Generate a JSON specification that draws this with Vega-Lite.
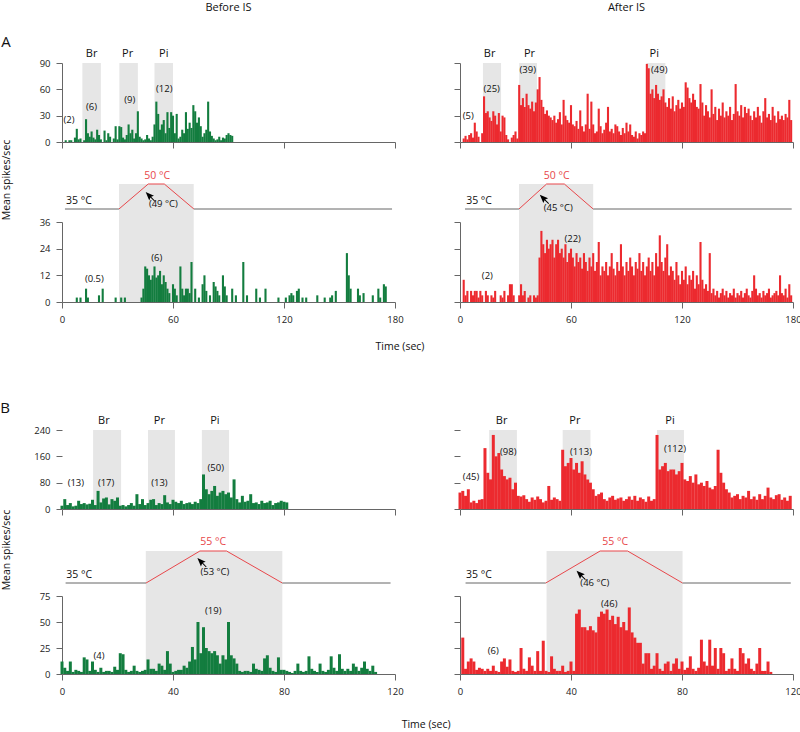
{
"$schema":"https://vega.github.io/schema/vega-lite/v6.json",
"padding":{"left":0,"top":1,"right":0,"bottom":0},
"config":{"view":{"stroke":null},"scale":{"continuousPadding":0},"axis":{"grid":false,"domainColor":"#666","tickColor":"#666","labelColor":"#222","labelFont":"Open Sans","labelFontSize":9.5,"tickSize":6,"labelPadding":6,"labelFlush":false,"tickCount":10},"text":{"font":"Open Sans","color":"#111"}},
"datasets":{
"abt":[{"t":2,"v":2},{"t":4,"v":2},{"t":5,"v":2},{"t":7,"v":5},{"t":8,"v":15},{"t":9,"v":3},{"t":10,"v":4},{"t":12,"v":2},{"t":13,"v":26},{"t":14,"v":10},{"t":15,"v":6},{"t":16,"v":12},{"t":17,"v":5},{"t":18,"v":3},{"t":19,"v":14},{"t":20,"v":8},{"t":21,"v":3},{"t":23,"v":13},{"t":24,"v":2},{"t":25,"v":10},{"t":26,"v":6},{"t":28,"v":4},{"t":29,"v":18},{"t":30,"v":3},{"t":31,"v":18},{"t":32,"v":17},{"t":33,"v":5},{"t":34,"v":3},{"t":35,"v":8},{"t":36,"v":20},{"t":37,"v":10},{"t":38,"v":14},{"t":39,"v":4},{"t":40,"v":10},{"t":41,"v":35},{"t":42,"v":6},{"t":43,"v":4},{"t":44,"v":2},{"t":45,"v":3},{"t":46,"v":8},{"t":47,"v":4},{"t":48,"v":2},{"t":49,"v":6},{"t":50,"v":20},{"t":51,"v":46},{"t":52,"v":32},{"t":53,"v":14},{"t":54,"v":20},{"t":55,"v":25},{"t":56,"v":10},{"t":57,"v":34},{"t":58,"v":16},{"t":59,"v":34},{"t":60,"v":30},{"t":61,"v":10},{"t":62,"v":32},{"t":63,"v":4},{"t":64,"v":6},{"t":65,"v":14},{"t":66,"v":10},{"t":67,"v":34},{"t":68,"v":15},{"t":69,"v":22},{"t":70,"v":16},{"t":71,"v":42},{"t":72,"v":35},{"t":73,"v":22},{"t":74,"v":28},{"t":75,"v":18},{"t":76,"v":6},{"t":77,"v":10},{"t":78,"v":14},{"t":79,"v":46},{"t":80,"v":12},{"t":81,"v":7},{"t":82,"v":4},{"t":83,"v":2},{"t":84,"v":3},{"t":85,"v":6},{"t":86,"v":2},{"t":87,"v":5},{"t":88,"v":4},{"t":89,"v":8},{"t":90,"v":10},{"t":91,"v":8},{"t":92,"v":7}],
"aat":[{"t":2,"v":4},{"t":3,"v":7},{"t":4,"v":3},{"t":5,"v":8},{"t":6,"v":10},{"t":7,"v":5},{"t":8,"v":22},{"t":9,"v":12},{"t":10,"v":6},{"t":12,"v":10},{"t":13,"v":52},{"t":14,"v":33},{"t":15,"v":35},{"t":16,"v":28},{"t":17,"v":24},{"t":18,"v":35},{"t":19,"v":30},{"t":20,"v":20},{"t":21,"v":33},{"t":22,"v":12},{"t":23,"v":30},{"t":24,"v":28},{"t":25,"v":8},{"t":26,"v":3},{"t":28,"v":5},{"t":29,"v":8},{"t":30,"v":12},{"t":31,"v":4},{"t":32,"v":65},{"t":33,"v":42},{"t":34,"v":50},{"t":35,"v":40},{"t":36,"v":55},{"t":37,"v":42},{"t":38,"v":38},{"t":39,"v":46},{"t":40,"v":35},{"t":41,"v":45},{"t":42,"v":60},{"t":43,"v":74},{"t":44,"v":48},{"t":45,"v":40},{"t":46,"v":32},{"t":47,"v":36},{"t":48,"v":30},{"t":49,"v":28},{"t":50,"v":25},{"t":51,"v":30},{"t":52,"v":22},{"t":53,"v":26},{"t":54,"v":34},{"t":55,"v":20},{"t":56,"v":48},{"t":57,"v":30},{"t":58,"v":25},{"t":59,"v":22},{"t":60,"v":42},{"t":61,"v":20},{"t":62,"v":18},{"t":63,"v":24},{"t":64,"v":15},{"t":65,"v":36},{"t":66,"v":18},{"t":67,"v":12},{"t":68,"v":20},{"t":69,"v":55},{"t":70,"v":15},{"t":71,"v":46},{"t":72,"v":20},{"t":73,"v":10},{"t":74,"v":12},{"t":75,"v":38},{"t":76,"v":18},{"t":77,"v":10},{"t":78,"v":14},{"t":79,"v":22},{"t":80,"v":40},{"t":81,"v":12},{"t":82,"v":15},{"t":83,"v":10},{"t":84,"v":20},{"t":85,"v":18},{"t":86,"v":12},{"t":87,"v":8},{"t":88,"v":16},{"t":89,"v":10},{"t":90,"v":22},{"t":91,"v":12},{"t":92,"v":20},{"t":93,"v":8},{"t":94,"v":6},{"t":95,"v":12},{"t":96,"v":4},{"t":97,"v":10},{"t":98,"v":8},{"t":99,"v":12},{"t":100,"v":10},{"t":101,"v":89},{"t":102,"v":84},{"t":103,"v":55},{"t":104,"v":60},{"t":105,"v":50},{"t":106,"v":65},{"t":107,"v":55},{"t":108,"v":48},{"t":109,"v":52},{"t":110,"v":60},{"t":111,"v":45},{"t":112,"v":40},{"t":113,"v":50},{"t":114,"v":38},{"t":115,"v":52},{"t":116,"v":35},{"t":117,"v":42},{"t":118,"v":48},{"t":119,"v":38},{"t":120,"v":45},{"t":121,"v":40},{"t":122,"v":68},{"t":123,"v":62},{"t":124,"v":50},{"t":125,"v":45},{"t":126,"v":55},{"t":127,"v":48},{"t":128,"v":40},{"t":129,"v":38},{"t":130,"v":66},{"t":131,"v":45},{"t":132,"v":30},{"t":133,"v":42},{"t":134,"v":35},{"t":135,"v":28},{"t":136,"v":60},{"t":137,"v":32},{"t":138,"v":40},{"t":139,"v":25},{"t":140,"v":38},{"t":141,"v":30},{"t":142,"v":45},{"t":143,"v":28},{"t":144,"v":35},{"t":145,"v":30},{"t":146,"v":40},{"t":147,"v":25},{"t":148,"v":32},{"t":149,"v":66},{"t":150,"v":35},{"t":151,"v":30},{"t":152,"v":42},{"t":153,"v":28},{"t":154,"v":40},{"t":155,"v":33},{"t":156,"v":38},{"t":157,"v":30},{"t":158,"v":25},{"t":159,"v":35},{"t":160,"v":28},{"t":161,"v":40},{"t":162,"v":30},{"t":163,"v":22},{"t":164,"v":35},{"t":165,"v":50},{"t":166,"v":28},{"t":167,"v":32},{"t":168,"v":25},{"t":169,"v":40},{"t":170,"v":30},{"t":171,"v":22},{"t":172,"v":35},{"t":173,"v":26},{"t":174,"v":30},{"t":175,"v":25},{"t":176,"v":32},{"t":177,"v":28},{"t":178,"v":48},{"t":179,"v":25}],
"abh":[{"t":8,"v":2},{"t":10,"v":2},{"t":13,"v":6},{"t":14,"v":2},{"t":20,"v":3},{"t":22,"v":6},{"t":29,"v":2},{"t":32,"v":2},{"t":34,"v":2},{"t":43,"v":2},{"t":44,"v":6},{"t":45,"v":16},{"t":46,"v":15},{"t":47,"v":12},{"t":48,"v":10},{"t":49,"v":12},{"t":50,"v":16},{"t":51,"v":11},{"t":52,"v":12},{"t":53,"v":14},{"t":54,"v":8},{"t":55,"v":12},{"t":56,"v":9},{"t":57,"v":6},{"t":58,"v":4},{"t":60,"v":8},{"t":61,"v":6},{"t":62,"v":3},{"t":64,"v":16},{"t":65,"v":6},{"t":66,"v":3},{"t":67,"v":6},{"t":68,"v":6},{"t":69,"v":4},{"t":70,"v":18},{"t":72,"v":6},{"t":74,"v":2},{"t":76,"v":8},{"t":77,"v":12},{"t":78,"v":5},{"t":80,"v":3},{"t":82,"v":9},{"t":83,"v":7},{"t":84,"v":5},{"t":85,"v":3},{"t":87,"v":12},{"t":88,"v":7},{"t":89,"v":3},{"t":92,"v":6},{"t":94,"v":3},{"t":98,"v":18},{"t":100,"v":3},{"t":105,"v":6},{"t":107,"v":2},{"t":110,"v":6},{"t":117,"v":2},{"t":121,"v":2},{"t":123,"v":3},{"t":124,"v":4},{"t":125,"v":3},{"t":127,"v":5},{"t":128,"v":6},{"t":130,"v":2},{"t":132,"v":2},{"t":138,"v":3},{"t":142,"v":2},{"t":145,"v":2},{"t":146,"v":3},{"t":148,"v":5},{"t":154,"v":22},{"t":155,"v":12},{"t":156,"v":6},{"t":160,"v":6},{"t":161,"v":3},{"t":163,"v":4},{"t":168,"v":3},{"t":171,"v":6},{"t":172,"v":2},{"t":174,"v":8},{"t":175,"v":7}],
"aah":[{"t":2,"v":10},{"t":3,"v":3},{"t":4,"v":5},{"t":6,"v":5},{"t":7,"v":3},{"t":8,"v":5},{"t":9,"v":5},{"t":10,"v":2},{"t":11,"v":5},{"t":12,"v":3},{"t":14,"v":5},{"t":15,"v":3},{"t":17,"v":3},{"t":18,"v":2},{"t":19,"v":5},{"t":22,"v":3},{"t":23,"v":2},{"t":24,"v":5},{"t":26,"v":3},{"t":27,"v":8},{"t":28,"v":8},{"t":29,"v":3},{"t":32,"v":3},{"t":33,"v":8},{"t":34,"v":3},{"t":35,"v":5},{"t":37,"v":2},{"t":38,"v":3},{"t":40,"v":3},{"t":41,"v":2},{"t":42,"v":3},{"t":43,"v":20},{"t":44,"v":32},{"t":45,"v":26},{"t":46,"v":22},{"t":47,"v":28},{"t":48,"v":24},{"t":49,"v":26},{"t":50,"v":28},{"t":51,"v":20},{"t":52,"v":26},{"t":53,"v":28},{"t":54,"v":22},{"t":55,"v":24},{"t":56,"v":20},{"t":57,"v":26},{"t":58,"v":18},{"t":59,"v":22},{"t":60,"v":24},{"t":61,"v":20},{"t":62,"v":16},{"t":63,"v":22},{"t":64,"v":18},{"t":65,"v":20},{"t":66,"v":15},{"t":67,"v":22},{"t":68,"v":18},{"t":69,"v":14},{"t":70,"v":20},{"t":71,"v":16},{"t":72,"v":22},{"t":73,"v":14},{"t":74,"v":18},{"t":75,"v":27},{"t":76,"v":12},{"t":77,"v":16},{"t":78,"v":14},{"t":79,"v":18},{"t":80,"v":12},{"t":81,"v":16},{"t":82,"v":22},{"t":83,"v":15},{"t":84,"v":12},{"t":85,"v":18},{"t":86,"v":14},{"t":87,"v":26},{"t":88,"v":16},{"t":89,"v":12},{"t":90,"v":18},{"t":91,"v":14},{"t":92,"v":20},{"t":93,"v":16},{"t":94,"v":12},{"t":95,"v":18},{"t":96,"v":15},{"t":97,"v":22},{"t":98,"v":14},{"t":99,"v":18},{"t":100,"v":12},{"t":101,"v":16},{"t":102,"v":20},{"t":103,"v":14},{"t":104,"v":18},{"t":105,"v":12},{"t":106,"v":22},{"t":107,"v":16},{"t":108,"v":30},{"t":109,"v":18},{"t":110,"v":14},{"t":111,"v":20},{"t":112,"v":26},{"t":113,"v":12},{"t":114,"v":16},{"t":115,"v":14},{"t":116,"v":10},{"t":117,"v":18},{"t":118,"v":12},{"t":119,"v":8},{"t":120,"v":14},{"t":121,"v":10},{"t":122,"v":16},{"t":123,"v":8},{"t":124,"v":12},{"t":125,"v":10},{"t":126,"v":14},{"t":127,"v":6},{"t":128,"v":12},{"t":129,"v":8},{"t":130,"v":27},{"t":131,"v":10},{"t":132,"v":6},{"t":133,"v":8},{"t":134,"v":5},{"t":135,"v":22},{"t":136,"v":4},{"t":137,"v":6},{"t":138,"v":3},{"t":139,"v":5},{"t":140,"v":2},{"t":141,"v":4},{"t":142,"v":6},{"t":143,"v":3},{"t":144,"v":5},{"t":145,"v":2},{"t":146,"v":4},{"t":147,"v":3},{"t":148,"v":6},{"t":149,"v":2},{"t":150,"v":4},{"t":151,"v":3},{"t":152,"v":5},{"t":153,"v":2},{"t":154,"v":4},{"t":155,"v":6},{"t":156,"v":3},{"t":157,"v":2},{"t":158,"v":5},{"t":159,"v":12},{"t":160,"v":6},{"t":161,"v":3},{"t":162,"v":4},{"t":163,"v":2},{"t":164,"v":5},{"t":165,"v":3},{"t":166,"v":4},{"t":167,"v":6},{"t":168,"v":2},{"t":169,"v":3},{"t":170,"v":4},{"t":171,"v":5},{"t":172,"v":3},{"t":173,"v":12},{"t":174,"v":4},{"t":175,"v":3},{"t":176,"v":6},{"t":177,"v":2},{"t":178,"v":8},{"t":179,"v":3}],
"bbt":[{"t":0,"v":10},{"t":1,"v":30},{"t":2,"v":12},{"t":3,"v":18},{"t":4,"v":8},{"t":5,"v":10},{"t":6,"v":25},{"t":7,"v":15},{"t":8,"v":18},{"t":9,"v":14},{"t":10,"v":16},{"t":11,"v":28},{"t":12,"v":12},{"t":13,"v":55},{"t":14,"v":20},{"t":15,"v":32},{"t":16,"v":35},{"t":17,"v":14},{"t":18,"v":30},{"t":19,"v":25},{"t":20,"v":35},{"t":21,"v":10},{"t":22,"v":12},{"t":23,"v":8},{"t":24,"v":12},{"t":25,"v":18},{"t":26,"v":10},{"t":27,"v":45},{"t":28,"v":15},{"t":29,"v":30},{"t":30,"v":12},{"t":31,"v":18},{"t":32,"v":28},{"t":33,"v":30},{"t":34,"v":12},{"t":35,"v":18},{"t":36,"v":15},{"t":37,"v":42},{"t":38,"v":20},{"t":39,"v":15},{"t":40,"v":28},{"t":41,"v":22},{"t":42,"v":18},{"t":43,"v":25},{"t":44,"v":15},{"t":45,"v":18},{"t":46,"v":20},{"t":47,"v":15},{"t":48,"v":22},{"t":49,"v":18},{"t":50,"v":30},{"t":51,"v":105},{"t":52,"v":60},{"t":53,"v":45},{"t":54,"v":55},{"t":55,"v":70},{"t":56,"v":40},{"t":57,"v":50},{"t":58,"v":55},{"t":59,"v":45},{"t":60,"v":50},{"t":61,"v":35},{"t":62,"v":90},{"t":63,"v":30},{"t":64,"v":20},{"t":65,"v":40},{"t":66,"v":22},{"t":67,"v":25},{"t":68,"v":45},{"t":69,"v":18},{"t":70,"v":20},{"t":71,"v":15},{"t":72,"v":25},{"t":73,"v":18},{"t":74,"v":20},{"t":75,"v":25},{"t":76,"v":12},{"t":77,"v":18},{"t":78,"v":20},{"t":79,"v":25},{"t":80,"v":22},{"t":81,"v":20}],
"bat":[{"t":0,"v":50},{"t":1,"v":55},{"t":2,"v":40},{"t":3,"v":60},{"t":4,"v":20},{"t":5,"v":25},{"t":6,"v":18},{"t":7,"v":28},{"t":8,"v":30},{"t":9,"v":185},{"t":10,"v":110},{"t":11,"v":90},{"t":12,"v":225},{"t":13,"v":160},{"t":14,"v":170},{"t":15,"v":120},{"t":16,"v":100},{"t":17,"v":90},{"t":18,"v":95},{"t":19,"v":60},{"t":20,"v":80},{"t":21,"v":40},{"t":22,"v":38},{"t":23,"v":42},{"t":24,"v":30},{"t":25,"v":22},{"t":26,"v":35},{"t":27,"v":28},{"t":28,"v":38},{"t":29,"v":30},{"t":30,"v":20},{"t":31,"v":25},{"t":32,"v":70},{"t":33,"v":28},{"t":34,"v":35},{"t":35,"v":30},{"t":36,"v":25},{"t":37,"v":180},{"t":38,"v":130},{"t":39,"v":140},{"t":40,"v":155},{"t":41,"v":120},{"t":42,"v":140},{"t":43,"v":110},{"t":44,"v":145},{"t":45,"v":105},{"t":46,"v":90},{"t":47,"v":80},{"t":48,"v":60},{"t":49,"v":40},{"t":50,"v":45},{"t":51,"v":50},{"t":52,"v":30},{"t":53,"v":25},{"t":54,"v":35},{"t":55,"v":40},{"t":56,"v":28},{"t":57,"v":32},{"t":58,"v":35},{"t":59,"v":25},{"t":60,"v":30},{"t":61,"v":38},{"t":62,"v":28},{"t":63,"v":40},{"t":64,"v":25},{"t":65,"v":35},{"t":66,"v":30},{"t":67,"v":22},{"t":68,"v":38},{"t":69,"v":25},{"t":70,"v":30},{"t":71,"v":225},{"t":72,"v":120},{"t":73,"v":130},{"t":74,"v":140},{"t":75,"v":115},{"t":76,"v":120},{"t":77,"v":120},{"t":78,"v":105},{"t":79,"v":115},{"t":80,"v":140},{"t":81,"v":90},{"t":82,"v":85},{"t":83,"v":100},{"t":84,"v":80},{"t":85,"v":105},{"t":86,"v":75},{"t":87,"v":80},{"t":88,"v":70},{"t":89,"v":85},{"t":90,"v":65},{"t":91,"v":60},{"t":92,"v":70},{"t":93,"v":180},{"t":94,"v":110},{"t":95,"v":80},{"t":96,"v":60},{"t":97,"v":50},{"t":98,"v":35},{"t":99,"v":40},{"t":100,"v":45},{"t":101,"v":30},{"t":102,"v":40},{"t":103,"v":35},{"t":104,"v":55},{"t":105,"v":30},{"t":106,"v":38},{"t":107,"v":28},{"t":108,"v":45},{"t":109,"v":30},{"t":110,"v":40},{"t":111,"v":65},{"t":112,"v":35},{"t":113,"v":30},{"t":114,"v":42},{"t":115,"v":45},{"t":116,"v":28},{"t":117,"v":35},{"t":118,"v":25},{"t":119,"v":40}],
"bbh":[{"t":0,"v":12},{"t":1,"v":6},{"t":2,"v":3},{"t":3,"v":12},{"t":4,"v":2},{"t":5,"v":4},{"t":6,"v":3},{"t":7,"v":2},{"t":8,"v":16},{"t":9,"v":14},{"t":10,"v":3},{"t":11,"v":12},{"t":12,"v":4},{"t":13,"v":2},{"t":14,"v":6},{"t":15,"v":2},{"t":16,"v":3},{"t":17,"v":3},{"t":18,"v":2},{"t":19,"v":7},{"t":20,"v":4},{"t":21,"v":20},{"t":22,"v":19},{"t":23,"v":4},{"t":24,"v":2},{"t":25,"v":3},{"t":26,"v":8},{"t":27,"v":3},{"t":28,"v":2},{"t":29,"v":3},{"t":30,"v":4},{"t":31,"v":14},{"t":32,"v":5},{"t":33,"v":5},{"t":34,"v":3},{"t":35,"v":10},{"t":36,"v":8},{"t":37,"v":4},{"t":38,"v":22},{"t":39,"v":10},{"t":40,"v":2},{"t":41,"v":3},{"t":42,"v":4},{"t":43,"v":4},{"t":44,"v":8},{"t":45,"v":6},{"t":46,"v":12},{"t":47,"v":26},{"t":48,"v":14},{"t":49,"v":50},{"t":50,"v":20},{"t":51,"v":45},{"t":52,"v":25},{"t":53,"v":22},{"t":54,"v":20},{"t":55,"v":22},{"t":56,"v":18},{"t":57,"v":10},{"t":58,"v":18},{"t":59,"v":14},{"t":60,"v":50},{"t":61,"v":18},{"t":62,"v":15},{"t":63,"v":10},{"t":64,"v":3},{"t":65,"v":2},{"t":66,"v":3},{"t":67,"v":3},{"t":68,"v":2},{"t":69,"v":10},{"t":70,"v":5},{"t":71,"v":4},{"t":72,"v":3},{"t":73,"v":15},{"t":74,"v":18},{"t":75,"v":6},{"t":76,"v":3},{"t":77,"v":2},{"t":78,"v":16},{"t":79,"v":4},{"t":80,"v":4},{"t":81,"v":3},{"t":82,"v":2},{"t":83,"v":1},{"t":84,"v":3},{"t":85,"v":10},{"t":86,"v":3},{"t":87,"v":2},{"t":88,"v":3},{"t":89,"v":17},{"t":90,"v":5},{"t":91,"v":3},{"t":92,"v":2},{"t":93,"v":10},{"t":94,"v":3},{"t":95,"v":2},{"t":96,"v":4},{"t":97,"v":17},{"t":98,"v":6},{"t":99,"v":3},{"t":100,"v":19},{"t":101,"v":5},{"t":102,"v":3},{"t":103,"v":5},{"t":104,"v":3},{"t":105,"v":10},{"t":106,"v":7},{"t":107,"v":3},{"t":108,"v":6},{"t":109,"v":12},{"t":110,"v":5},{"t":111,"v":3},{"t":112,"v":8},{"t":113,"v":2}],
"bah":[{"t":1,"v":35},{"t":2,"v":5},{"t":3,"v":12},{"t":4,"v":15},{"t":5,"v":12},{"t":6,"v":4},{"t":7,"v":6},{"t":8,"v":5},{"t":9,"v":3},{"t":10,"v":5},{"t":11,"v":3},{"t":12,"v":8},{"t":13,"v":3},{"t":14,"v":2},{"t":15,"v":12},{"t":16,"v":15},{"t":17,"v":7},{"t":18,"v":14},{"t":19,"v":3},{"t":20,"v":2},{"t":21,"v":3},{"t":22,"v":25},{"t":23,"v":5},{"t":24,"v":3},{"t":25,"v":16},{"t":26,"v":8},{"t":27,"v":3},{"t":28,"v":22},{"t":29,"v":3},{"t":30,"v":32},{"t":31,"v":3},{"t":32,"v":2},{"t":33,"v":17},{"t":34,"v":5},{"t":35,"v":3},{"t":36,"v":3},{"t":37,"v":8},{"t":38,"v":2},{"t":39,"v":3},{"t":40,"v":12},{"t":41,"v":3},{"t":42,"v":58},{"t":43,"v":62},{"t":44,"v":45},{"t":45,"v":45},{"t":46,"v":42},{"t":47,"v":46},{"t":48,"v":42},{"t":49,"v":40},{"t":50,"v":55},{"t":51,"v":60},{"t":52,"v":58},{"t":53,"v":62},{"t":54,"v":52},{"t":55,"v":56},{"t":56,"v":48},{"t":57,"v":55},{"t":58,"v":45},{"t":59,"v":50},{"t":60,"v":42},{"t":61,"v":64},{"t":62,"v":40},{"t":63,"v":35},{"t":64,"v":30},{"t":65,"v":30},{"t":66,"v":10},{"t":67,"v":20},{"t":68,"v":20},{"t":69,"v":5},{"t":70,"v":8},{"t":71,"v":20},{"t":72,"v":5},{"t":73,"v":3},{"t":74,"v":10},{"t":75,"v":12},{"t":76,"v":3},{"t":77,"v":10},{"t":78,"v":15},{"t":79,"v":5},{"t":80,"v":12},{"t":81,"v":4},{"t":82,"v":6},{"t":83,"v":17},{"t":84,"v":5},{"t":85,"v":3},{"t":86,"v":6},{"t":87,"v":33},{"t":88,"v":12},{"t":89,"v":8},{"t":90,"v":33},{"t":91,"v":8},{"t":92,"v":25},{"t":93,"v":5},{"t":94,"v":25},{"t":95,"v":20},{"t":96,"v":3},{"t":97,"v":5},{"t":98,"v":15},{"t":99,"v":5},{"t":100,"v":3},{"t":101,"v":25},{"t":102,"v":20},{"t":103,"v":10},{"t":104,"v":15},{"t":105,"v":5},{"t":106,"v":3},{"t":107,"v":10},{"t":108,"v":25},{"t":109,"v":3},{"t":110,"v":3},{"t":111,"v":12},{"t":112,"v":2}]
},
"columns":2,
"spacing":{"row":0,"column":65},
"bounds":"flush",
"align":"each",
"concat":[
{"width":333,"height":79,"layer":[
 {"data":{"values":[{"a":11,"b":21,"lo":0,"hi":90},{"a":31,"b":41,"lo":0,"hi":90},{"a":50,"b":60,"lo":0,"hi":90}]},"mark":{"type":"rect","color":"#e6e6e6"},
  "encoding":{"x":{"field":"a","type":"quantitative","title":null,"scale":{"domain":[0,180],"nice":false,"padding":0},"axis":{"values":[0,60,120,180],"labels":false,"tickCount":10}},"x2":{"field":"b"},"y":{"field":"lo","type":"quantitative","title":null,"scale":{"domain":[0,90],"nice":false},"axis":{"values":[0,30,60,90],"tickCount":10}},"y2":{"field":"hi"}}},
 {"data":{"name":"abt"},"mark":{"type":"bar","color":"#137d3f","size":2.1},"encoding":{"x":{"field":"t","type":"quantitative","title":null},"y":{"field":"v","type":"quantitative","title":null}}},
 {"data":{"values":[{"x":90,"y":152.7,"s":"Before IS"},{"x":16,"y":100.3,"s":"Br"},{"x":35.5,"y":100.3,"s":"Pr"},{"x":55,"y":100.3,"s":"Pi"}]},"mark":{"type":"text","fontSize":11},"encoding":{"x":{"field":"x","type":"quantitative","title":null},"y":{"field":"y","type":"quantitative","title":null},"text":{"field":"s"}}},
 {"data":{"values":[{"x":3.8,"y":24.7,"s":"(2)"},{"x":15.9,"y":40.2,"s":"(6)"},{"x":36.6,"y":47.8,"s":"(9)"},{"x":55.3,"y":60,"s":"(12)"}]},"mark":{"type":"text","fontSize":9.5},"encoding":{"x":{"field":"x","type":"quantitative","title":null},"y":{"field":"y","type":"quantitative","title":null},"text":{"field":"s"}}},
 {"data":{"values":[{"x":-30.3,"y":113.4,"s":"A"}]},"mark":{"type":"text","fontSize":15},"encoding":{"x":{"field":"x","type":"quantitative","title":null},"y":{"field":"y","type":"quantitative","title":null},"text":{"field":"s"}}}
]},
{"width":333,"height":79,"layer":[
 {"data":{"values":[{"a":12.4,"b":22.2,"lo":0,"hi":90},{"a":32,"b":41.6,"lo":0,"hi":90},{"a":101,"b":111,"lo":0,"hi":90}]},"mark":{"type":"rect","color":"#e6e6e6"},
  "encoding":{"x":{"field":"a","type":"quantitative","title":null,"scale":{"domain":[0,180],"nice":false,"padding":0},"axis":{"values":[0,60,120,180],"labels":false,"tickCount":10}},"x2":{"field":"b"},"y":{"field":"lo","type":"quantitative","title":null,"scale":{"domain":[0,90],"nice":false},"axis":{"values":[0,30,60,90],"labels":false,"tickCount":10}},"y2":{"field":"hi"}}},
 {"data":{"name":"aat"},"mark":{"type":"bar","color":"#ec2a2f","size":2.1},"encoding":{"x":{"field":"t","type":"quantitative","title":null},"y":{"field":"v","type":"quantitative","title":null}}},
 {"data":{"values":[{"x":90,"y":152.7,"s":"After IS"},{"x":16,"y":100.3,"s":"Br"},{"x":37.6,"y":100.3,"s":"Pr"},{"x":105,"y":100.3,"s":"Pi"}]},"mark":{"type":"text","fontSize":11},"encoding":{"x":{"field":"x","type":"quantitative","title":null},"y":{"field":"y","type":"quantitative","title":null},"text":{"field":"s"}}},
 {"data":{"values":[{"x":4.5,"y":30,"s":"(5)"},{"x":17.1,"y":60,"s":"(25)"},{"x":36.6,"y":82,"s":"(39)"},{"x":107.7,"y":82,"s":"(49)"}]},"mark":{"type":"text","fontSize":9.5},"encoding":{"x":{"field":"x","type":"quantitative","title":null},"y":{"field":"y","type":"quantitative","title":null},"text":{"field":"s"}}}
]},
{"width":333,"height":80,"layer":[
 {"data":{"values":[{"a":30.8,"b":71.2}]},"mark":{"type":"rect","color":"#e6e6e6"},
  "encoding":{"x":{"field":"a","type":"quantitative","title":null,"scale":{"domain":[0,180],"nice":false,"padding":0},"axis":null},"x2":{"field":"b"},
  "y":{"datum":50,"type":"quantitative","title":null,"scale":{"domain":[27.2,75.2],"nice":false,"zero":false},"axis":null},"y2":{"datum":27.2}}},
 {"data":{"values":[{"t":1.6,"c":35,"s":"a"},{"t":30.8,"c":35,"s":"a"},{"t":30.8,"c":35,"s":"b"},{"t":46.6,"c":50,"s":"b"},{"t":55.3,"c":50,"s":"b"},{"t":71.3,"c":35,"s":"b"},{"t":71.3,"c":35,"s":"c"},{"t":178.4,"c":35,"s":"c"}]},"mark":{"type":"line","strokeWidth":1},
  "encoding":{"x":{"field":"t","type":"quantitative","title":null,"axis":null},"y":{"field":"c","type":"quantitative","title":null,"axis":null},"color":{"field":"s","type":"nominal","scale":{"domain":["a","b","c"],"range":["#666","#e8474b","#666"]},"legend":null}}},
 {"data":{"values":[{"x":9.2,"y":40,"s":"35 °C"}]},"mark":{"type":"text","fontSize":10.5},"encoding":{"x":{"field":"x","type":"quantitative","title":null,"axis":null},"y":{"field":"y","type":"quantitative","title":null,"axis":null},"text":{"field":"s"}}},
 {"data":{"values":[{"x":51.5,"y":55,"s":"50 °C"}]},"mark":{"type":"text","fontSize":10.5,"color":"#e8474b"},"encoding":{"x":{"field":"x","type":"quantitative","title":null,"axis":null},"y":{"field":"y","type":"quantitative","title":null,"axis":null},"text":{"field":"s"}}},
 {"data":{"values":[{"x":54.8,"y":37.8,"s":"(49 °C)"}]},"mark":{"type":"text","fontSize":9.5},"encoding":{"x":{"field":"x","type":"quantitative","title":null,"axis":null},"y":{"field":"y","type":"quantitative","title":null,"axis":null},"text":{"field":"s"}}},
 {"data":{"values":[{"x":47.8,"y":42.3}]},"mark":{"type":"point","shape":"M-1,-1L0.75,-0.25L0.15,0L0.95,0.8L0.8,0.95L0,0.15L-0.25,0.75Z","filled":true,"color":"#000","opacity":1,"size":90},"encoding":{"x":{"field":"x","type":"quantitative","title":null,"axis":null},"y":{"field":"y","type":"quantitative","title":null,"axis":null}}},
 {"data":{"values":[{"x":-30,"y":52.4,"s":"Mean spikes/sec"}]},"mark":{"type":"text","fontSize":10.5,"angle":270},"encoding":{"x":{"field":"x","type":"quantitative","title":null,"axis":null},"y":{"field":"y","type":"quantitative","title":null,"axis":null},"text":{"field":"s"}}}
]},
{"width":333,"height":80,"layer":[
 {"data":{"values":[{"a":31.9,"b":72}]},"mark":{"type":"rect","color":"#e6e6e6"},
  "encoding":{"x":{"field":"a","type":"quantitative","title":null,"scale":{"domain":[0,180],"nice":false,"padding":0},"axis":null},"x2":{"field":"b"},
  "y":{"datum":50,"type":"quantitative","title":null,"scale":{"domain":[27.2,75.2],"nice":false,"zero":false},"axis":null},"y2":{"datum":27.2}}},
 {"data":{"values":[{"t":2.7,"c":35,"s":"a"},{"t":31.9,"c":35,"s":"a"},{"t":31.9,"c":35,"s":"b"},{"t":46.8,"c":50,"s":"b"},{"t":56.4,"c":50,"s":"b"},{"t":72,"c":35,"s":"b"},{"t":72,"c":35,"s":"c"},{"t":179.3,"c":35,"s":"c"}]},"mark":{"type":"line","strokeWidth":1},
  "encoding":{"x":{"field":"t","type":"quantitative","title":null,"axis":null},"y":{"field":"c","type":"quantitative","title":null,"axis":null},"color":{"field":"s","type":"nominal","scale":{"domain":["a","b","c"],"range":["#666","#e8474b","#666"]},"legend":null}}},
 {"data":{"values":[{"x":10.3,"y":40,"s":"35 °C"}]},"mark":{"type":"text","fontSize":10.5},"encoding":{"x":{"field":"x","type":"quantitative","title":null,"axis":null},"y":{"field":"y","type":"quantitative","title":null,"axis":null},"text":{"field":"s"}}},
 {"data":{"values":[{"x":52.3,"y":55,"s":"50 °C"}]},"mark":{"type":"text","fontSize":10.5,"color":"#e8474b"},"encoding":{"x":{"field":"x","type":"quantitative","title":null,"axis":null},"y":{"field":"y","type":"quantitative","title":null,"axis":null},"text":{"field":"s"}}},
 {"data":{"values":[{"x":53.1,"y":35.8,"s":"(45 °C)"}]},"mark":{"type":"text","fontSize":9.5},"encoding":{"x":{"field":"x","type":"quantitative","title":null,"axis":null},"y":{"field":"y","type":"quantitative","title":null,"axis":null},"text":{"field":"s"}}},
 {"data":{"values":[{"x":45.7,"y":40.7}]},"mark":{"type":"point","shape":"M-1,-1L0.75,-0.25L0.15,0L0.95,0.8L0.8,0.95L0,0.15L-0.25,0.75Z","filled":true,"color":"#000","opacity":1,"size":90},"encoding":{"x":{"field":"x","type":"quantitative","title":null,"axis":null},"y":{"field":"y","type":"quantitative","title":null,"axis":null}}}
]},
{"width":333,"height":80,"layer":[
 {"data":{"values":[{"a":30.8,"b":71.2,"lo":0,"hi":36}]},"mark":{"type":"rect","color":"#e6e6e6"},
  "encoding":{"x":{"field":"a","type":"quantitative","title":null,"scale":{"domain":[0,180],"nice":false,"padding":0},"axis":{"values":[0,60,120,180],"tickCount":10}},"x2":{"field":"b"},"y":{"field":"lo","type":"quantitative","title":null,"scale":{"domain":[0,36],"nice":false},"axis":{"values":[0,12,24,36],"tickCount":10}},"y2":{"field":"hi"}}},
 {"data":{"name":"abh"},"mark":{"type":"bar","color":"#137d3f","size":2.1},"encoding":{"x":{"field":"t","type":"quantitative","title":null},"y":{"field":"v","type":"quantitative","title":null}}},
 {"data":{"values":[{"x":17.5,"y":10.2,"s":"(0.5)"},{"x":51.2,"y":19.9,"s":"(6)"}]},"mark":{"type":"text","fontSize":9.5},"encoding":{"x":{"field":"x","type":"quantitative","title":null},"y":{"field":"y","type":"quantitative","title":null},"text":{"field":"s"}}},
 {"data":{"values":[{"x":182.7,"y":-20.25,"s":"Time (sec)"}]},"mark":{"type":"text","fontSize":10.5},"encoding":{"x":{"field":"x","type":"quantitative","title":null},"y":{"field":"y","type":"quantitative","title":null},"text":{"field":"s"}}}
]},
{"width":333,"height":80,"layer":[
 {"data":{"values":[{"a":31.9,"b":72,"lo":0,"hi":36}]},"mark":{"type":"rect","color":"#e6e6e6"},
  "encoding":{"x":{"field":"a","type":"quantitative","title":null,"scale":{"domain":[0,180],"nice":false,"padding":0},"axis":{"values":[0,60,120,180],"tickCount":10}},"x2":{"field":"b"},"y":{"field":"lo","type":"quantitative","title":null,"scale":{"domain":[0,36],"nice":false},"axis":{"values":[0,12,24,36],"labels":false,"tickCount":10}},"y2":{"field":"hi"}}},
 {"data":{"name":"aah"},"mark":{"type":"bar","color":"#ec2a2f","size":2.1},"encoding":{"x":{"field":"t","type":"quantitative","title":null},"y":{"field":"v","type":"quantitative","title":null}}},
 {"data":{"values":[{"x":14.8,"y":11.7,"s":"(2)"},{"x":60.9,"y":28.2,"s":"(22)"}]},"mark":{"type":"text","fontSize":9.5},"encoding":{"x":{"field":"x","type":"quantitative","title":null},"y":{"field":"y","type":"quantitative","title":null},"text":{"field":"s"}}}
]},
{"width":333,"height":207,"layer":[
 {"data":{"values":[{"a":11.2,"b":21.3,"lo":0,"hi":240},{"a":31,"b":40.7,"lo":0,"hi":240},{"a":50.4,"b":60.2,"lo":0,"hi":240}]},"mark":{"type":"rect","color":"#e6e6e6"},
  "encoding":{"x":{"field":"a","type":"quantitative","title":null,"scale":{"domain":[0,120],"nice":false,"padding":0},"axis":{"values":[0,40,80,120],"labels":false,"tickCount":10}},"x2":{"field":"b"},"y":{"field":"lo","type":"quantitative","title":null,"scale":{"domain":[0,628.9],"nice":false},"axis":{"values":[0,80,160,240],"domain":false,"tickCount":10}},"y2":{"field":"hi"}}},
 {"mark":{"type":"rule","color":"#666","strokeWidth":1},"encoding":{"x":{"datum":0},"y":{"datum":0},"y2":{"datum":240}}},
 {"data":{"name":"bbt"},"mark":{"type":"bar","color":"#137d3f","size":3},"encoding":{"x":{"field":"t","type":"quantitative","title":null},"y":{"field":"v","type":"quantitative","title":null}}},
 {"data":{"values":[{"x":15.1,"y":268,"s":"Br"},{"x":35.1,"y":268,"s":"Pr"},{"x":55.1,"y":268,"s":"Pi"}]},"mark":{"type":"text","fontSize":11},"encoding":{"x":{"field":"x","type":"quantitative","title":null},"y":{"field":"y","type":"quantitative","title":null},"text":{"field":"s"}}},
 {"data":{"values":[{"x":5,"y":80,"s":"(13)"},{"x":15.9,"y":80,"s":"(17)"},{"x":35.1,"y":80,"s":"(13)"},{"x":55.4,"y":125.5,"s":"(50)"}]},"mark":{"type":"text","fontSize":9.5},"encoding":{"x":{"field":"x","type":"quantitative","title":null},"y":{"field":"y","type":"quantitative","title":null},"text":{"field":"s"}}},
 {"data":{"values":[{"x":-20.5,"y":308.3,"s":"B"}]},"mark":{"type":"text","fontSize":15},"encoding":{"x":{"field":"x","type":"quantitative","title":null},"y":{"field":"y","type":"quantitative","title":null},"text":{"field":"s"}}}
]},
{"width":333,"height":207,"layer":[
 {"data":{"values":[{"a":10.5,"b":20.5,"lo":0,"hi":240},{"a":37,"b":47,"lo":0,"hi":240},{"a":71,"b":80.7,"lo":0,"hi":240}]},"mark":{"type":"rect","color":"#e6e6e6"},
  "encoding":{"x":{"field":"a","type":"quantitative","title":null,"scale":{"domain":[0,120],"nice":false,"padding":0},"axis":{"values":[0,40,80,120],"labels":false,"tickCount":10}},"x2":{"field":"b"},"y":{"field":"lo","type":"quantitative","title":null,"scale":{"domain":[0,628.9],"nice":false},"axis":{"values":[0,80,160,240],"domain":false,"labels":false,"tickCount":10}},"y2":{"field":"hi"}}},
 {"mark":{"type":"rule","color":"#666","strokeWidth":1},"encoding":{"x":{"datum":0},"y":{"datum":0},"y2":{"datum":240}}},
 {"data":{"name":"bat"},"mark":{"type":"bar","color":"#ec2a2f","size":3},"encoding":{"x":{"field":"t","type":"quantitative","title":null},"y":{"field":"v","type":"quantitative","title":null}}},
 {"data":{"values":[{"x":15,"y":268,"s":"Br"},{"x":41.4,"y":268,"s":"Pr"},{"x":75.7,"y":268,"s":"Pi"}]},"mark":{"type":"text","fontSize":11},"encoding":{"x":{"field":"x","type":"quantitative","title":null},"y":{"field":"y","type":"quantitative","title":null},"text":{"field":"s"}}},
 {"data":{"values":[{"x":4,"y":98,"s":"(45)"},{"x":17.4,"y":174,"s":"(98)"},{"x":43.6,"y":174,"s":"(113)"},{"x":77.5,"y":182,"s":"(112)"}]},"mark":{"type":"text","fontSize":9.5},"encoding":{"x":{"field":"x","type":"quantitative","title":null},"y":{"field":"y","type":"quantitative","title":null},"text":{"field":"s"}}}
]},
{"width":333,"height":87,"layer":[
 {"data":{"values":[{"a":30.2,"b":79.4}]},"mark":{"type":"rect","color":"#e6e6e6"},
  "encoding":{"x":{"field":"a","type":"quantitative","title":null,"scale":{"domain":[0,120],"nice":false,"padding":0},"axis":null},"x2":{"field":"b"},
  "y":{"datum":55,"type":"quantitative","title":null,"scale":{"domain":[26.875,81.25],"nice":false,"zero":false},"axis":null},"y2":{"datum":26.875}}},
 {"data":{"values":[{"t":1.3,"c":35,"s":"a"},{"t":30.3,"c":35,"s":"a"},{"t":30.3,"c":35,"s":"b"},{"t":49.7,"c":55,"s":"b"},{"t":59.3,"c":55,"s":"b"},{"t":79.4,"c":35,"s":"b"},{"t":79.4,"c":35,"s":"c"},{"t":118.4,"c":35,"s":"c"}]},"mark":{"type":"line","strokeWidth":1},
  "encoding":{"x":{"field":"t","type":"quantitative","title":null,"axis":null},"y":{"field":"c","type":"quantitative","title":null,"axis":null},"color":{"field":"s","type":"nominal","scale":{"domain":["a","b","c"],"range":["#666","#e8474b","#666"]},"legend":null}}},
 {"data":{"values":[{"x":6.2,"y":40,"s":"35 °C"}]},"mark":{"type":"text","fontSize":10.5},"encoding":{"x":{"field":"x","type":"quantitative","title":null,"axis":null},"y":{"field":"y","type":"quantitative","title":null,"axis":null},"text":{"field":"s"}}},
 {"data":{"values":[{"x":54.5,"y":60.4,"s":"55 °C"}]},"mark":{"type":"text","fontSize":10.5,"color":"#e8474b"},"encoding":{"x":{"field":"x","type":"quantitative","title":null,"axis":null},"y":{"field":"y","type":"quantitative","title":null,"axis":null},"text":{"field":"s"}}},
 {"data":{"values":[{"x":55.1,"y":41.7,"s":"(53 °C)"}]},"mark":{"type":"text","fontSize":9.5},"encoding":{"x":{"field":"x","type":"quantitative","title":null,"axis":null},"y":{"field":"y","type":"quantitative","title":null,"axis":null},"text":{"field":"s"}}},
 {"data":{"values":[{"x":50.5,"y":47.6}]},"mark":{"type":"point","shape":"M-1,-1L0.75,-0.25L0.15,0L0.95,0.8L0.8,0.95L0,0.15L-0.25,0.75Z","filled":true,"color":"#000","opacity":1,"size":90},"encoding":{"x":{"field":"x","type":"quantitative","title":null,"axis":null},"y":{"field":"y","type":"quantitative","title":null,"axis":null}}},
 {"data":{"values":[{"x":-20,"y":55.6,"s":"Mean spikes/sec"}]},"mark":{"type":"text","fontSize":10.5,"angle":270},"encoding":{"x":{"field":"x","type":"quantitative","title":null,"axis":null},"y":{"field":"y","type":"quantitative","title":null,"axis":null},"text":{"field":"s"}}}
]},
{"width":333,"height":87,"layer":[
 {"data":{"values":[{"a":31.2,"b":80.2}]},"mark":{"type":"rect","color":"#e6e6e6"},
  "encoding":{"x":{"field":"a","type":"quantitative","title":null,"scale":{"domain":[0,120],"nice":false,"padding":0},"axis":null},"x2":{"field":"b"},
  "y":{"datum":55,"type":"quantitative","title":null,"scale":{"domain":[26.875,81.25],"nice":false,"zero":false},"axis":null},"y2":{"datum":26.875}}},
 {"data":{"values":[{"t":2,"c":35,"s":"a"},{"t":30.9,"c":35,"s":"a"},{"t":30.9,"c":35,"s":"b"},{"t":50.5,"c":55,"s":"b"},{"t":60.4,"c":55,"s":"b"},{"t":80.2,"c":35,"s":"b"},{"t":80.2,"c":35,"s":"c"},{"t":119.2,"c":35,"s":"c"}]},"mark":{"type":"line","strokeWidth":1},
  "encoding":{"x":{"field":"t","type":"quantitative","title":null,"axis":null},"y":{"field":"c","type":"quantitative","title":null,"axis":null},"color":{"field":"s","type":"nominal","scale":{"domain":["a","b","c"],"range":["#666","#e8474b","#666"]},"legend":null}}},
 {"data":{"values":[{"x":6.8,"y":40,"s":"35 °C"}]},"mark":{"type":"text","fontSize":10.5},"encoding":{"x":{"field":"x","type":"quantitative","title":null,"axis":null},"y":{"field":"y","type":"quantitative","title":null,"axis":null},"text":{"field":"s"}}},
 {"data":{"values":[{"x":55.9,"y":60.4,"s":"55 °C"}]},"mark":{"type":"text","fontSize":10.5,"color":"#e8474b"},"encoding":{"x":{"field":"x","type":"quantitative","title":null,"axis":null},"y":{"field":"y","type":"quantitative","title":null,"axis":null},"text":{"field":"s"}}},
 {"data":{"values":[{"x":48.6,"y":34.8,"s":"(46 °C)"}]},"mark":{"type":"text","fontSize":9.5},"encoding":{"x":{"field":"x","type":"quantitative","title":null,"axis":null},"y":{"field":"y","type":"quantitative","title":null,"axis":null},"text":{"field":"s"}}},
 {"data":{"values":[{"x":43.7,"y":39.7}]},"mark":{"type":"point","shape":"M-1,-1L0.75,-0.25L0.15,0L0.95,0.8L0.8,0.95L0,0.15L-0.25,0.75Z","filled":true,"color":"#000","opacity":1,"size":90},"encoding":{"x":{"field":"x","type":"quantitative","title":null,"axis":null},"y":{"field":"y","type":"quantitative","title":null,"axis":null}}}
]},
{"width":333,"height":78,"layer":[
 {"data":{"values":[{"a":30.2,"b":79.4,"lo":0,"hi":75}]},"mark":{"type":"rect","color":"#e6e6e6"},
  "encoding":{"x":{"field":"a","type":"quantitative","title":null,"scale":{"domain":[0,120],"nice":false,"padding":0},"axis":{"values":[0,40,80,120],"tickCount":10}},"x2":{"field":"b"},"y":{"field":"lo","type":"quantitative","title":null,"scale":{"domain":[0,75],"nice":false},"axis":{"values":[0,25,50,75],"tickCount":10}},"y2":{"field":"hi"}}},
 {"data":{"name":"bbh"},"mark":{"type":"bar","color":"#137d3f","size":3},"encoding":{"x":{"field":"t","type":"quantitative","title":null},"y":{"field":"v","type":"quantitative","title":null}}},
 {"data":{"values":[{"x":13.3,"y":17.6,"s":"(4)"},{"x":54.5,"y":60.9,"s":"(19)"}]},"mark":{"type":"text","fontSize":9.5},"encoding":{"x":{"field":"x","type":"quantitative","title":null},"y":{"field":"y","type":"quantitative","title":null},"text":{"field":"s"}}},
 {"data":{"values":[{"x":131.2,"y":-49.5,"s":"Time (sec)"}]},"mark":{"type":"text","fontSize":10.5},"encoding":{"x":{"field":"x","type":"quantitative","title":null},"y":{"field":"y","type":"quantitative","title":null},"text":{"field":"s"}}}
]},
{"width":333,"height":78,"layer":[
 {"data":{"values":[{"a":31.2,"b":80.2,"lo":0,"hi":75}]},"mark":{"type":"rect","color":"#e6e6e6"},
  "encoding":{"x":{"field":"a","type":"quantitative","title":null,"scale":{"domain":[0,120],"nice":false,"padding":0},"axis":{"values":[0,40,80,120],"tickCount":10}},"x2":{"field":"b"},"y":{"field":"lo","type":"quantitative","title":null,"scale":{"domain":[0,75],"nice":false},"axis":{"values":[0,25,50,75],"labels":false,"tickCount":10}},"y2":{"field":"hi"}}},
 {"data":{"name":"bah"},"mark":{"type":"bar","color":"#ec2a2f","size":3},"encoding":{"x":{"field":"t","type":"quantitative","title":null},"y":{"field":"v","type":"quantitative","title":null}}},
 {"data":{"values":[{"x":12,"y":22.1,"s":"(6)"},{"x":53.8,"y":67.3,"s":"(46)"}]},"mark":{"type":"text","fontSize":9.5},"encoding":{"x":{"field":"x","type":"quantitative","title":null},"y":{"field":"y","type":"quantitative","title":null},"text":{"field":"s"}}}
]}
]
}
